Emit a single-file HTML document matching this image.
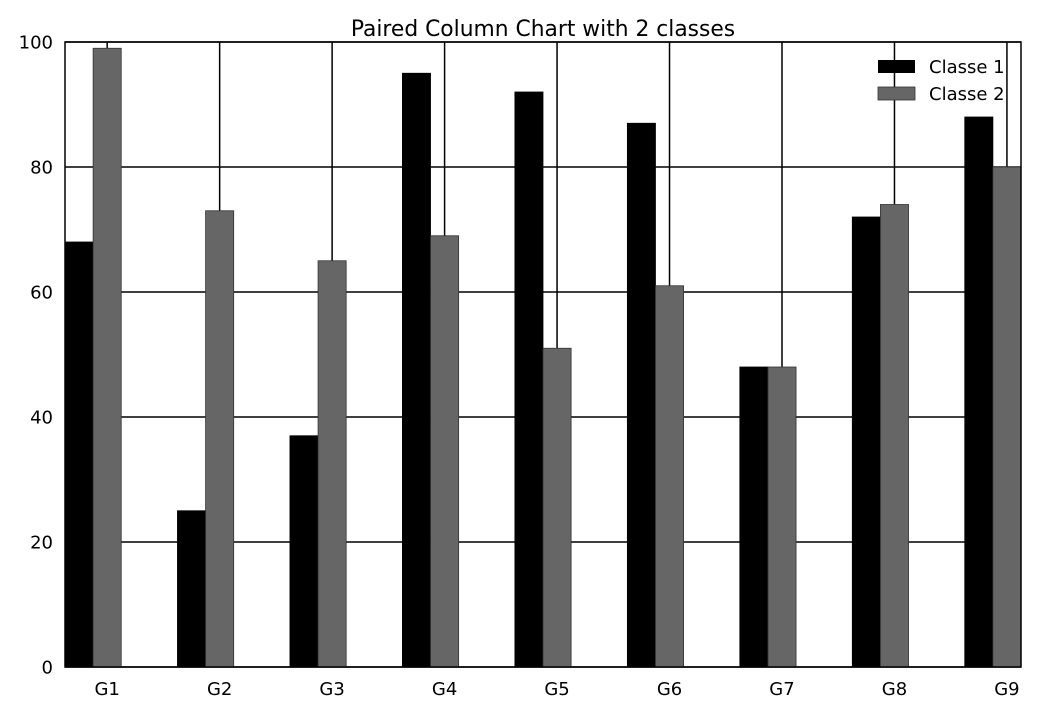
<!DOCTYPE html>
<html><head><meta charset="utf-8"><style>
body{margin:0;background:#fff;}
svg{display:block;font-family:"DejaVu Sans","Liberation Sans",sans-serif;}
</style></head><body>
<svg id="chart" width="1040" height="715" viewBox="0 0 1040 715">
<text x="543" y="36" text-anchor="middle" font-size="21.8" fill="#000">Paired Column Chart with 2 classes</text>
<g id="grid"></g><g id="bars"></g><g id="axes"></g>
<g>
<rect x="878" y="60" width="37" height="13" fill="#000"/>
<text x="929" y="73" font-size="18">Classe 1</text>
<rect x="878" y="87" width="37" height="13" fill="#666" stroke="#333" stroke-width="0.8"/>
<text x="929" y="100" font-size="18">Classe 2</text>
</g>
</svg>
<script>
const categories=["G1","G2","G3","G4","G5","G6","G7","G8","G9"];
const class1=[68,25,37,95,92,87,48,72,88];
const class2=[99,73,65,69,51,61,48,74,80];
const yTicks=[0,20,40,60,80,100];
const L=65,R=1021,T=42,B=667;
const step=(R-L)/(categories.length-1+0.5);
const xPos=i=>L+0.375*step+i*step;
const yPos=v=>B-(v/100)*(B-T);
const ns="http://www.w3.org/2000/svg";
function mk(tag,attrs,parent){const e=document.createElementNS(ns,tag);for(const k in attrs)e.setAttribute(k,attrs[k]);parent.appendChild(e);return e;}
const grid=document.getElementById('grid'),bars=document.getElementById('bars'),axes=document.getElementById('axes');
yTicks.forEach(t=>{
 const y=yPos(t);
 const l=mk('line',{x1:L,x2:R,y1:y,y2:y,stroke:'#000','stroke-width':1.5},grid);
 
 
 const tx=mk('text',{x:L-12,y:y+6.5,'text-anchor':'end','font-size':18},axes);
 tx.textContent=t;
 
 
});
const bw=step*0.25;
categories.forEach((c,i)=>{
 const x=xPos(i);
 const g=mk('line',{x1:x,x2:x,y1:T,y2:B,stroke:'#000','stroke-width':1.5},grid);
 
 
 const b1=mk('rect',{x:x-1.5*bw,y:yPos(class1[i]),width:bw,height:B-yPos(class1[i]),fill:'#000',stroke:'#000','stroke-width':0.8},bars);
 
 
 const b2=mk('rect',{x:x-0.5*bw,y:yPos(class2[i]),width:bw,height:B-yPos(class2[i]),fill:'#666',stroke:'#333','stroke-width':0.8},bars);
 
 
 const tx=mk('text',{x:x,y:B+28,'text-anchor':'middle','font-size':18},axes);
 tx.textContent=c;
 
 
});
const fr=mk('rect',{x:L,y:T,width:R-L,height:B-T,fill:'none',stroke:'#000','stroke-width':1.5},axes);


</script>
</body></html>
